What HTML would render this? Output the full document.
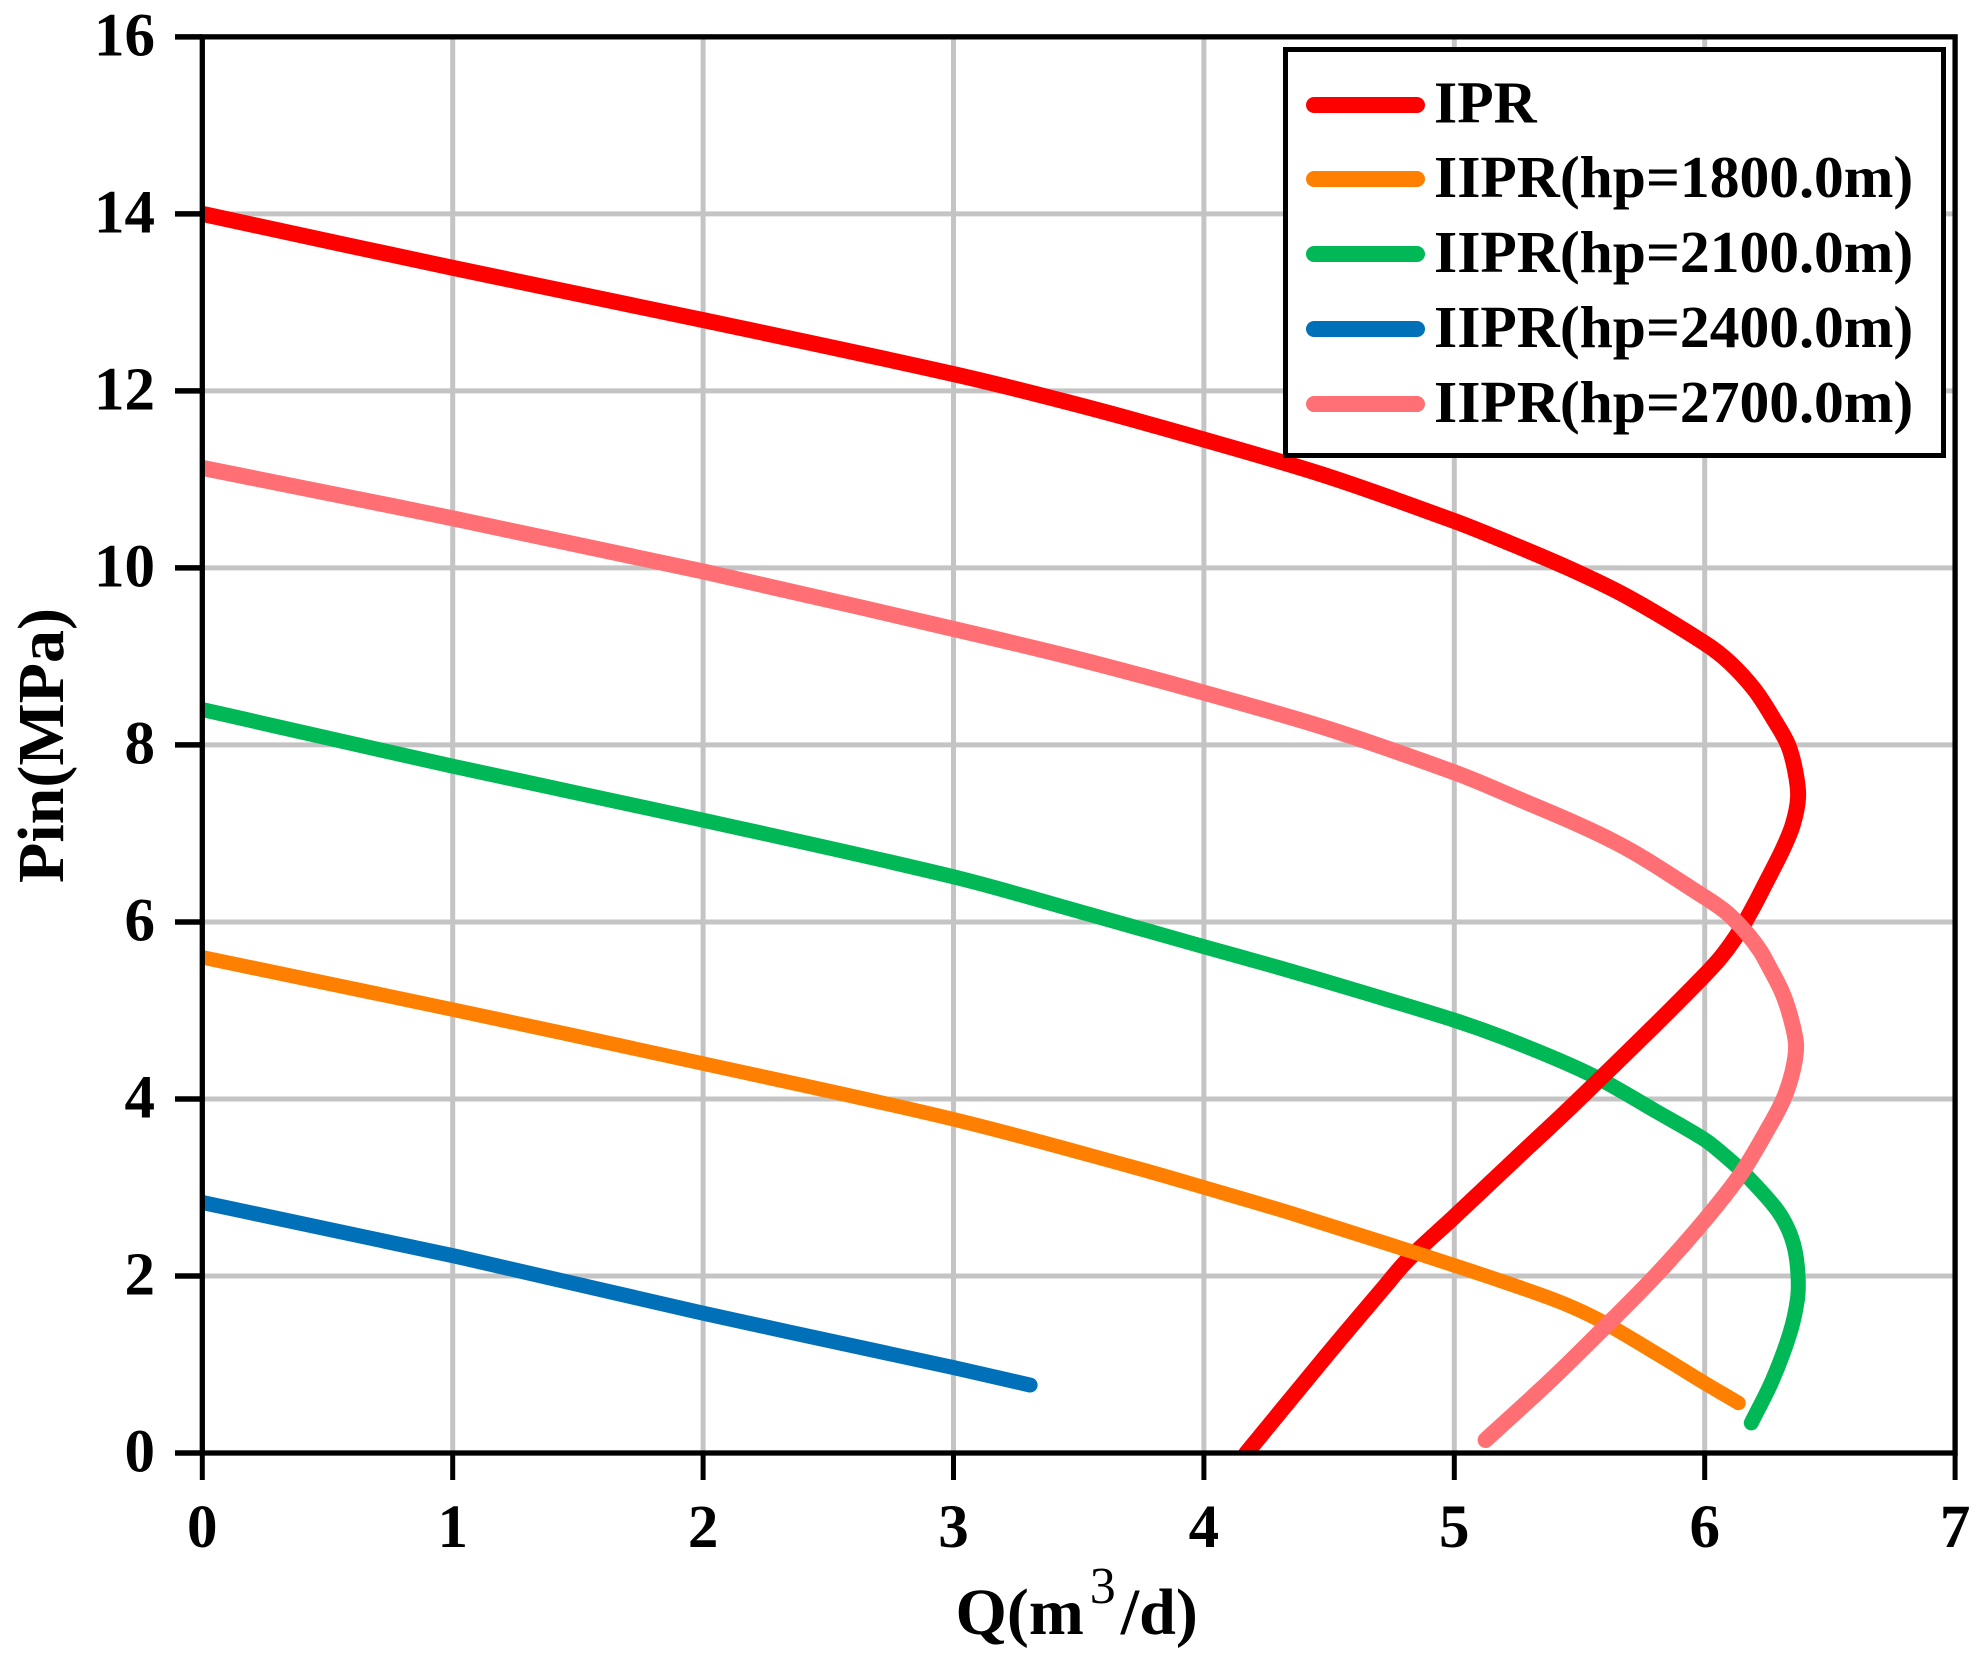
<!DOCTYPE html>
<html lang="en">
<head>
<meta charset="utf-8">
<title>IPR and IIPR curves</title>
<style>
html,body{margin:0;padding:0;background:#fff;}
svg{display:block;font-family:"Liberation Serif",serif;font-weight:bold;fill:#000;}
</style>
</head>
<body>
<svg id="chart" xmlns="http://www.w3.org/2000/svg" width="1978" height="1658" viewBox="0 0 1978 1658">
  <defs>
    <clipPath id="plot-clip"><rect x="202.3" y="36.8" width="1752.7" height="1416.2"></rect></clipPath>
  </defs>
  <rect x="0" y="0" width="1978" height="1658" fill="#fff"></rect>
  <g id="grid"></g>
  <g id="series" clip-path="url(#plot-clip)"></g>
  <g id="axes"></g>
  <text transform="translate(63 883) rotate(-90)" font-size="66">Pin(MPa)</text>
  <text x="955.5" y="1634" font-size="66">Q(m<tspan font-size="52" font-weight="normal" dx="6" dy="-31">3</tspan><tspan font-size="66" dx="5" dy="31">/d)</tspan></text>
  <g>
    <rect x="1285.5" y="49.5" width="658" height="406" fill="#fff" stroke="#000" stroke-width="5"></rect>
    <line x1="1314" y1="105" x2="1417" y2="105" stroke="#ff0000" stroke-width="16" stroke-linecap="round"></line>
    <text x="1434" y="122.5" font-size="59.6">IPR</text>
    <line x1="1314" y1="179" x2="1417" y2="179" stroke="#ff8000" stroke-width="16" stroke-linecap="round"></line>
    <text x="1434" y="197" font-size="59.6">IIPR(hp=1800.0m)</text>
    <line x1="1314" y1="254" x2="1417" y2="254" stroke="#00b855" stroke-width="16" stroke-linecap="round"></line>
    <text x="1434" y="272" font-size="59.6">IIPR(hp=2100.0m)</text>
    <line x1="1314" y1="329" x2="1417" y2="329" stroke="#0070b8" stroke-width="16" stroke-linecap="round"></line>
    <text x="1434" y="347" font-size="59.6">IIPR(hp=2400.0m)</text>
    <line x1="1314" y1="404" x2="1417" y2="404" stroke="#ff6f73" stroke-width="16" stroke-linecap="round"></line>
    <text x="1434" y="422" font-size="59.6">IIPR(hp=2700.0m)</text>
  </g>
</svg>
<script>
const xTicks = [0, 1, 2, 3, 4, 5, 6, 7];
const yTicks = [0, 2, 4, 6, 8, 10, 12, 14, 16];

const iprQ = [0, 1, 2, 3, 3.5, 4, 4.5, 5, 5.187, 5.454, 5.694, 6, 6.1, 6.2, 6.28, 6.333, 6.362, 6.373, 6.352, 6.31, 6.24, 6.2, 6.14, 6.07, 6, 5.8, 5.466, 5.24, 5, 4.81, 4.716, 4.507, 4.17];
const iprP = [14, 13.39, 12.8, 12.19, 11.84, 11.45, 11.03, 10.53, 10.32, 10, 9.67, 9.15, 8.93, 8.62, 8.27, 8, 7.7, 7.41, 7.1, 6.81, 6.42, 6.2, 5.9, 5.62, 5.4, 4.83, 3.91, 3.31, 2.67, 2.17, 1.86, 1.16, 0];

const q1800 = [0, 1, 2, 3, 3.705, 4, 4.37, 5, 5.333, 5.47, 5.6, 5.85, 6, 6.135];
const p1800 = [5.6, 5.01, 4.4, 3.77, 3.24, 3, 2.69, 2.12, 1.8, 1.65, 1.47, 1.05, 0.79, 0.565];

const q2100 = [0, 1, 2, 3, 3.5, 4, 4.305, 4.64, 5, 5.19, 5.466, 5.61, 5.8, 6, 6.08, 6.158, 6.28, 6.33, 6.36, 6.373, 6.37, 6.34, 6.27, 6.186];
const p2100 = [8.4, 7.76, 7.15, 6.51, 6.12, 5.72, 5.48, 5.2, 4.89, 4.7, 4.38, 4.18, 3.87, 3.54, 3.36, 3.16, 2.78, 2.55, 2.3, 1.99, 1.73, 1.35, 0.82, 0.34];

const q2400 = [0, 1, 2, 3, 3.306];
const p2400 = [2.83, 2.23, 1.58, 0.965, 0.768];

const q2700 = [0, 1, 2, 3, 3.5, 4, 4.5, 5, 5.19, 5.65, 6, 6.09, 6.166, 6.22, 6.256, 6.31, 6.345, 6.365, 6.35, 6.315, 6.26, 6.146, 6, 5.806, 5.6, 5.386, 5.125];
const p2700 = [11.13, 10.56, 9.96, 9.31, 8.97, 8.59, 8.18, 7.69, 7.47, 6.89, 6.28, 6.1, 5.88, 5.68, 5.5, 5.2, 4.9, 4.6, 4.3, 4, 3.7, 3.16, 2.63, 2.01, 1.42, 0.825, 0.147];

const SVGNS = 'http://www.w3.org/2000/svg';
const xScale = function (q) { return 202.3 + q * 250.4; };
const yScale = function (p) { return 1453 - p * 88.51; };

function make(tag, attrs, parent) {
  const el = document.createElementNS(SVGNS, tag);
  Object.keys(attrs).forEach(function (k) { el.setAttribute(k, attrs[k]); });
  parent.appendChild(el);
  return el;
}

function unit(a, b) {
  const dx = b[0] - a[0];
  const dy = b[1] - a[1];
  const len = Math.hypot(dx, dy) || 1;
  return [dx / len, dy / len];
}

function smoothPath(qs, ps) {
  const pts = qs.map(function (q, i) { return [xScale(q), yScale(ps[i])]; });
  let d = 'M' + pts[0][0].toFixed(2) + ' ' + pts[0][1].toFixed(2);
  for (let i = 0; i < pts.length - 1; i++) {
    const a = pts[Math.max(i - 1, 0)];
    const b = pts[i];
    const c = pts[i + 1];
    const e = pts[Math.min(i + 2, pts.length - 1)];
    const h = Math.hypot(c[0] - b[0], c[1] - b[1]) / 3;
    const t1 = unit(a, c);
    const t2 = unit(b, e);
    d += 'C' + (b[0] + t1[0] * h).toFixed(2) + ' ' + (b[1] + t1[1] * h).toFixed(2) + ' ' + (c[0] - t2[0] * h).toFixed(2) + ' ' + (c[1] - t2[1] * h).toFixed(2) + ' ' + c[0].toFixed(2) + ' ' + c[1].toFixed(2);
  }
  return d;
}

const gridG = document.getElementById('grid');
const axesG = document.getElementById('axes');
const seriesG = document.getElementById('series');

xTicks.forEach(function (t) {
  if (t > 0 && t < 7) {
    const g = make('line', { x1: xScale(t), x2: xScale(t), y1: yScale(0), y2: yScale(16), stroke: '#c4c4c4', 'stroke-width': 5 }, gridG);
    
    
  }
  const tick = make('line', { x1: xScale(t), x2: xScale(t), y1: yScale(0), y2: 1480, stroke: '#000', 'stroke-width': 5 }, axesG);
  
  
  const label = make('text', { x: xScale(t), y: 1547, 'font-size': 61, 'text-anchor': 'middle' }, axesG);
  
  
  label.textContent = String(t);
});

yTicks.forEach(function (t) {
  if (t > 0 && t < 16) {
    const g = make('line', { x1: xScale(0), x2: xScale(7), y1: yScale(t), y2: yScale(t), stroke: '#c4c4c4', 'stroke-width': 5 }, gridG);
    
    
  }
  const tick = make('line', { x1: 175, x2: xScale(0), y1: yScale(t), y2: yScale(t), stroke: '#000', 'stroke-width': 5.5 }, axesG);
  
  
  const label = make('text', { x: 155, y: yScale(t) + 18.5, 'font-size': 61, 'text-anchor': 'end' }, axesG);
  
  
  label.textContent = String(t);
});

const frame = make('rect', { x: xScale(0), y: yScale(16), width: xScale(7) - xScale(0), height: yScale(0) - yScale(16), fill: 'none', stroke: '#000', 'stroke-width': 5.3 }, axesG);



const green = make('path', { d: smoothPath(q2100, p2100), fill: 'none', stroke: '#00b855', 'stroke-width': 15, 'stroke-linecap': 'round', 'stroke-linejoin': 'round' }, seriesG);



const red = make('path', { d: smoothPath(iprQ, iprP), fill: 'none', stroke: '#ff0000', 'stroke-width': 16, 'stroke-linecap': 'round', 'stroke-linejoin': 'round' }, seriesG);



const blue = make('path', { d: smoothPath(q2400, p2400), fill: 'none', stroke: '#0070b8', 'stroke-width': 15, 'stroke-linecap': 'round', 'stroke-linejoin': 'round' }, seriesG);



const orange = make('path', { d: smoothPath(q1800, p1800), fill: 'none', stroke: '#ff8000', 'stroke-width': 14.5, 'stroke-linecap': 'round', 'stroke-linejoin': 'round' }, seriesG);



const pink = make('path', { d: smoothPath(q2700, p2700), fill: 'none', stroke: '#ff6f73', 'stroke-width': 16, 'stroke-linecap': 'round', 'stroke-linejoin': 'round' }, seriesG);


</script>
</body>
</html>
